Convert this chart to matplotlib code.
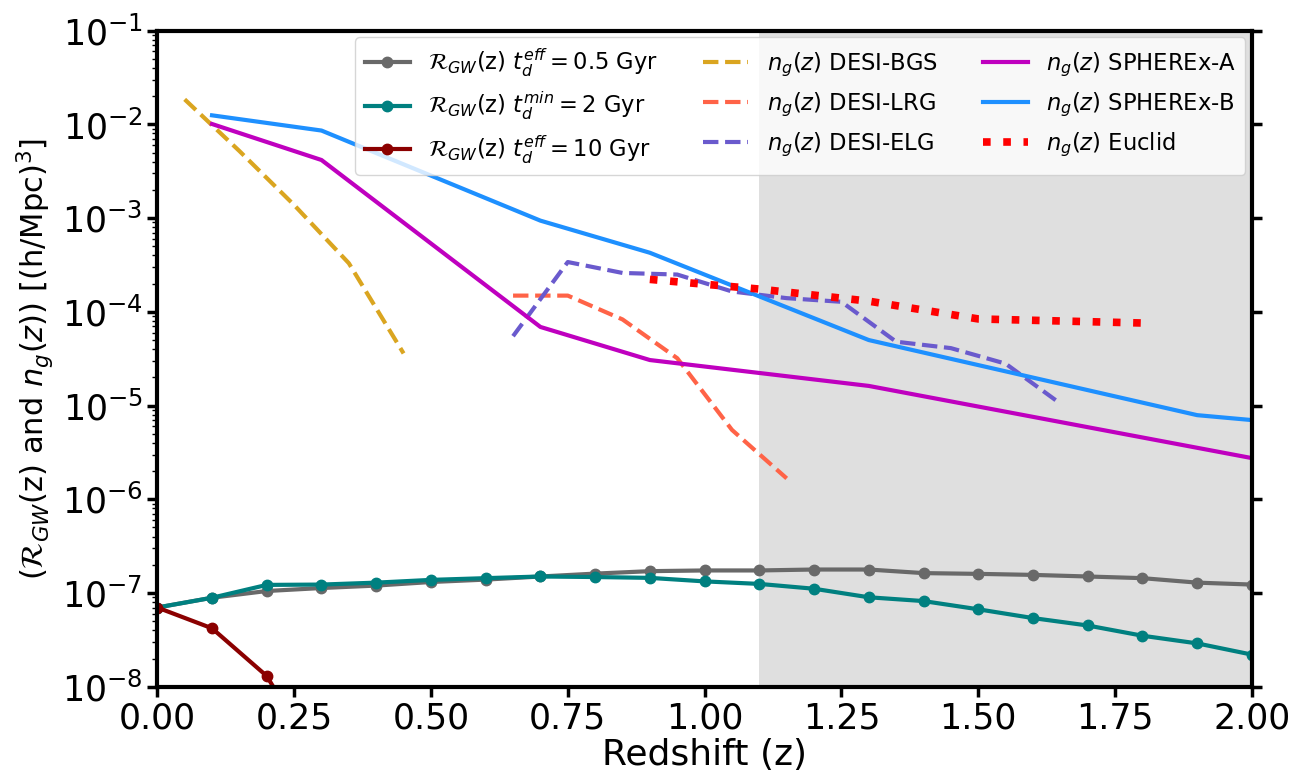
import matplotlib
matplotlib.use("Agg")
import matplotlib.pyplot as plt

# redshift grid of the merger rate curves
z_rgw = [0.0, 0.1, 0.2, 0.3, 0.4, 0.5, 0.6, 0.7, 0.8, 0.9, 1.0,
         1.1, 1.2, 1.3, 1.4, 1.5, 1.6, 1.7, 1.8, 1.9, 2.0]
rgw_05 = [7.0e-8, 8.9e-8, 1.05e-7, 1.13e-7, 1.2e-7, 1.31e-7, 1.39e-7, 1.5e-7, 1.61e-7, 1.71e-7, 1.74e-7,
          1.74e-7, 1.78e-7, 1.78e-7, 1.63e-7, 1.60e-7, 1.56e-7, 1.50e-7, 1.44e-7, 1.29e-7, 1.23e-7]
rgw_2 = [7.0e-8, 8.9e-8, 1.22e-7, 1.23e-7, 1.29e-7, 1.38e-7, 1.44e-7, 1.5e-7, 1.48e-7, 1.45e-7, 1.33e-7,
         1.25e-7, 1.11e-7, 9.0e-8, 8.2e-8, 6.7e-8, 5.4e-8, 4.5e-8, 3.5e-8, 2.9e-8, 2.2e-8]
z_rgw10 = [0.0, 0.1, 0.2, 0.3]
rgw_10 = [7.0e-8, 4.2e-8, 1.3e-8, 1.4e-9]

# galaxy number densities
z_bgs = [0.05, 0.15, 0.25, 0.35, 0.45]
n_bgs = [1.85e-2, 5.2e-3, 1.38e-3, 3.3e-4, 3.6e-5]

z_lrg = [0.65, 0.75, 0.85, 0.95, 1.05, 1.15]
n_lrg = [1.49e-4, 1.49e-4, 8.3e-5, 3.2e-5, 5.5e-6, 1.67e-6]

z_elg = [0.65, 0.75, 0.85, 0.95, 1.05, 1.15, 1.25, 1.35, 1.45, 1.55, 1.65]
n_elg = [5.5e-5, 3.4e-4, 2.6e-4, 2.5e-4, 1.65e-4, 1.4e-4, 1.28e-4, 4.8e-5, 4.1e-5, 2.8e-5, 1.05e-5]

z_sphA = [0.1, 0.3, 0.7, 0.9, 1.3, 2.0]
n_sphA = [1.01e-2, 4.17e-3, 6.9e-5, 3.06e-5, 1.62e-5, 2.75e-6]

z_sphB = [0.1, 0.3, 0.7, 0.9, 1.3, 1.9, 2.0]
n_sphB = [1.25e-2, 8.6e-3, 9.4e-4, 4.27e-4, 5.0e-5, 7.9e-6, 7.0e-6]

z_euclid = [0.9, 1.1, 1.3, 1.5, 1.8]
n_euclid = [2.22e-4, 1.75e-4, 1.3e-4, 8.4e-5, 7.6e-5]


fig, ax = plt.subplots(figsize=(13, 7.77), dpi=100)
fig.subplots_adjust(left=0.121, right=0.963, top=0.9605, bottom=0.1162)

ax.semilogy(z_rgw, rgw_05, "-o", color="dimgray", lw=3, ms=7.5,
            label=r"$\mathcal{R}_{GW}$(z) $t_d^{eff}=0.5$ Gyr")
ax.semilogy(z_rgw, rgw_2, "-o", color="teal", lw=3, ms=7.5,
            label=r"$\mathcal{R}_{GW}$(z) $t_d^{min}=2$ Gyr")
ax.semilogy(z_rgw10, rgw_10, "-o", color="darkred", lw=3, ms=7.5,
            label=r"$\mathcal{R}_{GW}$(z) $t_d^{eff}=10$ Gyr")
ax.semilogy(z_bgs, n_bgs, "--", color="goldenrod", lw=3, label=r"$n_g(z)$ DESI-BGS")
ax.semilogy(z_lrg, n_lrg, "--", color="tomato", lw=3, label=r"$n_g(z)$ DESI-LRG")
ax.semilogy(z_elg, n_elg, "--", color="slateblue", lw=3, label=r"$n_g(z)$ DESI-ELG")
ax.semilogy(z_sphA, n_sphA, "-", color="m", lw=3, label=r"$n_g(z)$ SPHEREx-A")
ax.semilogy(z_sphB, n_sphB, "-", color="dodgerblue", lw=3, label=r"$n_g(z)$ SPHEREx-B")
ax.semilogy(z_euclid, n_euclid, ":", color="red", lw=5.5, label=r"$n_g(z)$ Euclid")

# region beyond z = 1.1
ax.axvspan(1.1, 2.0, color="gray", alpha=0.25, lw=0)

ax.set_xlim(0, 2)
ax.set_ylim(1e-8, 1e-1)
ax.set_xticks([0.0, 0.25, 0.5, 0.75, 1.0, 1.25, 1.5, 1.75, 2.0])
ax.set_xlabel("Redshift (z)", fontsize=26, labelpad=2)
ax.set_ylabel(r"($\mathcal{R}_{GW}$(z) and $n_g(z)$) [(h/Mpc)$^3$]", fontsize=22)

for sp in ax.spines.values():
    sp.set_linewidth(3)
ax.tick_params(axis="both", which="major", labelsize=25, length=7, width=2.5)
ax.tick_params(axis="y", which="major", right=True)
ax.tick_params(axis="y", which="minor", length=3.5, width=1)

ax.legend(ncol=3, loc="upper right", fontsize=16.3, borderaxespad=0.3)

fig.savefig("out.png")
